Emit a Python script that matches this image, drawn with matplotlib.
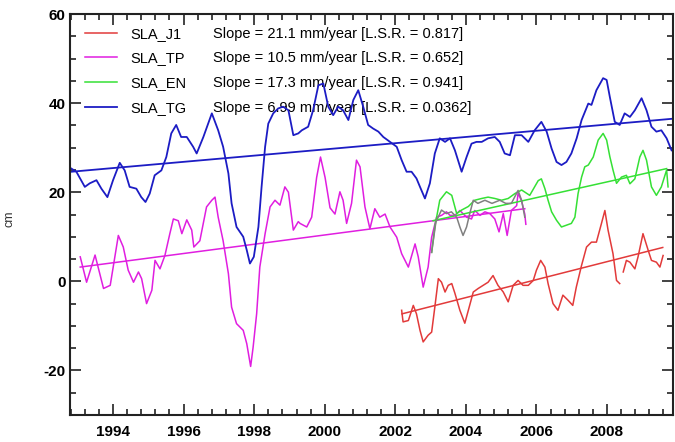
import numpy as np
import matplotlib.pyplot as plt
from matplotlib.lines import Line2D
from matplotlib.ticker import MultipleLocator

plt.rcParams['font.family'] = ['Liberation Sans', 'DejaVu Sans']

# SLA_TG (tide gauge)
tg_years = [1992.82, 1992.96, 1993.20, 1993.34, 1993.53, 1993.67, 1993.84, 1994.00, 1994.19, 1994.33,
            1994.47, 1994.66, 1994.80, 1994.92, 1995.04, 1995.18, 1995.37, 1995.51, 1995.65, 1995.79,
            1995.93, 1996.09, 1996.27, 1996.37, 1996.56, 1996.80, 1996.98, 1997.12, 1997.27, 1997.36,
            1997.50, 1997.69, 1997.79, 1997.88, 1997.99, 1998.12, 1998.21, 1998.31, 1998.40, 1998.54,
            1998.68, 1998.82, 1998.97, 1999.11, 1999.25, 1999.35, 1999.53, 1999.67, 1999.82, 1999.96,
            2000.10, 2000.24, 2000.38, 2000.52, 2000.67, 2000.81, 2000.95, 2001.09, 2001.23, 2001.37,
            2001.52, 2001.66, 2001.85, 2002.04, 2002.18, 2002.32, 2002.46, 2002.60, 2002.70, 2002.84,
            2002.98, 2003.12, 2003.26, 2003.41, 2003.55, 2003.69, 2003.88, 2004.02, 2004.16, 2004.30,
            2004.45, 2004.63, 2004.82, 2004.96, 2005.10, 2005.25, 2005.39, 2005.58, 2005.77, 2005.95,
            2006.14, 2006.29, 2006.43, 2006.57, 2006.71, 2006.85, 2006.99, 2007.14, 2007.28, 2007.47,
            2007.56, 2007.70, 2007.89, 2007.99, 2008.08, 2008.22, 2008.36, 2008.50, 2008.65, 2008.79,
            2008.98, 2009.12, 2009.26, 2009.40, 2009.54, 2009.69, 2009.83]
tg_cm = [25.3, 24.6, 21.2, 22.0, 22.7, 20.8, 18.9, 22.7, 26.6, 24.9,
         21.2, 20.8, 18.9, 17.8, 19.7, 23.8, 24.9, 27.9, 33.2, 35.1,
         32.4, 32.4, 30.2, 28.7, 32.4, 37.7, 33.9, 30.2, 24.2, 17.5,
         12.2, 10.0, 7.0, 4.0, 5.5, 12.2, 21.2, 30.2, 35.4, 37.7,
         38.8, 39.2, 38.4, 32.8, 33.2, 33.9, 34.7, 38.4, 44.0, 44.4,
         39.2, 37.3, 39.2, 38.4, 36.2, 40.7, 42.9, 39.2, 35.1, 34.3,
         33.6, 32.4, 31.3, 30.2, 27.2, 24.6, 24.6, 23.1, 21.2, 18.6,
         22.0, 28.7, 32.1, 31.3, 32.1, 29.4, 24.6, 27.9, 30.9, 31.3,
         31.3, 32.1, 32.4, 31.3, 28.7, 28.3, 32.8, 32.8, 31.3, 33.9,
         35.8, 33.6, 29.8, 26.8, 26.1, 26.8, 28.7, 32.1, 36.2, 39.9,
         39.6, 42.9, 45.6, 45.2, 41.4, 35.8, 35.1, 37.7, 36.9, 38.4,
         41.1, 38.4, 34.7, 33.6, 33.9, 32.1, 29.4]

# SLA_TP (Topex/Poseidon)
tp_years = [1993.07, 1993.25, 1993.49, 1993.73, 1993.92, 1994.15, 1994.29, 1994.43, 1994.58, 1994.72,
            1994.81, 1994.95, 1995.10, 1995.19, 1995.33, 1995.47, 1995.61, 1995.71, 1995.85, 1995.95,
            1996.09, 1996.23, 1996.29, 1996.46, 1996.65, 1996.80, 1996.89, 1996.98, 1997.12, 1997.27,
            1997.36, 1997.50, 1997.69, 1997.79, 1997.90, 1997.97, 1998.07, 1998.16, 1998.31, 1998.45,
            1998.59, 1998.73, 1998.87, 1998.97, 1999.11, 1999.25, 1999.30, 1999.49, 1999.63, 1999.77,
            1999.88, 2000.01, 2000.15, 2000.29, 2000.43, 2000.52, 2000.62, 2000.76, 2000.90, 2001.00,
            2001.14, 2001.28, 2001.42, 2001.56, 2001.71, 2001.85, 2002.04, 2002.18, 2002.37, 2002.56,
            2002.65, 2002.79, 2002.93, 2003.03, 2003.17, 2003.31, 2003.45, 2003.55, 2003.69, 2003.83,
            2004.02, 2004.16, 2004.25, 2004.40, 2004.54, 2004.68, 2004.82, 2004.94, 2005.06, 2005.17,
            2005.29, 2005.44, 2005.48, 2005.58, 2005.67, 2005.70]
tp_cm = [5.5, -0.2, 5.9, -1.6, -0.9, 10.3, 7.7, 2.5, -0.2, 2.1,
         0.6, -5.0, -2.0, 4.7, 2.8, 5.8, 10.7, 14.0, 13.6, 10.7,
         13.8, 11.5, 7.7, 9.1, 16.7, 18.2, 18.9, 14.4, 9.1, 1.7,
         -5.8, -9.5, -11.0, -14.0, -19.1, -14.8, -7.3, 3.2, 10.7, 16.7,
         18.2, 17.1, 21.2, 20.0, 11.5, 13.4, 13.0, 12.2, 14.4, 23.3,
         27.9, 23.3, 16.5, 15.1, 20.1, 18.2, 13.0, 17.5, 27.2, 25.7,
         16.7, 11.8, 16.3, 14.4, 15.1, 12.2, 9.9, 6.2, 3.2, 8.4,
         5.5, -1.3, 3.2, 9.9, 14.4, 14.8, 15.6, 14.8, 14.8, 15.9,
         14.4, 14.0, 15.9, 14.8, 15.6, 15.2, 14.0, 11.1, 15.2, 10.3,
         15.9, 17.0, 19.8, 18.0, 15.1, 12.8]

# SLA_EN (Envisat)
en_years = [2003.03, 2003.12, 2003.26, 2003.45, 2003.60, 2003.74, 2003.88, 2004.07, 2004.25, 2004.45,
            2004.63, 2004.82, 2005.01, 2005.20, 2005.39, 2005.58, 2005.81, 2006.05, 2006.14, 2006.24,
            2006.33, 2006.43, 2006.57, 2006.71, 2006.85, 2006.99, 2007.09, 2007.18, 2007.28, 2007.37,
            2007.47, 2007.61, 2007.75, 2007.89, 2007.99, 2008.08, 2008.17, 2008.27, 2008.41, 2008.55,
            2008.65, 2008.79, 2008.93, 2009.02, 2009.12, 2009.26, 2009.40, 2009.54, 2009.69, 2009.73]
en_cm = [6.5, 12.2, 18.2, 20.1, 19.3, 15.2, 16.0, 16.8, 18.2, 18.6,
         18.9, 18.6, 18.2, 18.6, 19.7, 20.5, 19.3, 22.6, 23.0, 20.8,
         18.2, 15.6, 13.7, 12.2, 12.6, 13.0, 14.4, 19.7, 23.4, 25.7,
         26.1, 27.9, 31.7, 33.2, 31.7, 28.0, 25.0, 22.0, 23.4, 23.8,
         21.9, 23.0, 27.9, 29.4, 27.2, 21.2, 19.3, 21.2, 25.0, 21.2]

# unlabelled grey series (2003-2005)
gr_years = [2003.03, 2003.15, 2003.31, 2003.45, 2003.59, 2003.74, 2003.83, 2003.92, 2004.02, 2004.11,
            2004.21, 2004.34, 2004.54, 2004.74, 2004.96, 2005.13, 2005.29, 2005.48, 2005.58, 2005.67]
gr_cm = [6.5, 13.3, 16.0, 15.2, 15.6, 14.4, 12.2, 10.3, 12.2, 15.2,
         18.2, 17.5, 18.2, 17.5, 18.2, 17.5, 17.5, 20.4, 18.2, 14.4]

# SLA_J1 (Jason-1), gap in mid 2008
j1_years = [2002.18, 2002.22, 2002.37, 2002.51, 2002.60, 2002.70, 2002.79, 2002.93, 2003.03, 2003.12,
            2003.22, 2003.31, 2003.41, 2003.50, 2003.60, 2003.69, 2003.83, 2003.97, 2004.07, 2004.21,
            2004.35, 2004.49, 2004.63, 2004.77, 2004.91, 2005.06, 2005.20, 2005.34, 2005.48, 2005.62,
            2005.77, 2005.91, 2006.00, 2006.12, 2006.24, 2006.33, 2006.47, 2006.61, 2006.75, 2006.89,
            2007.03, 2007.13, 2007.28, 2007.42, 2007.56, 2007.70, 2007.84, 2007.94, 2008.03, 2008.17,
            2008.27, 2008.36, 2008.41, 2008.46, 2008.55, 2008.65, 2008.79, 2008.88, 2009.02, 2009.17,
            2009.26, 2009.40, 2009.50, 2009.59]
j1_cm = [-6.5, -9.1, -8.8, -5.4, -7.3, -11.0, -13.6, -12.1, -11.4, -5.8,
         0.6, -0.2, -2.4, -0.9, -0.5, -2.7, -6.5, -9.4, -6.5, -2.4,
         -1.6, -0.9, -0.2, 1.3, -0.9, -2.4, -4.6, -0.9, 0.2, -0.9,
         -0.9, 0.2, 2.5, 4.7, 3.2, -0.5, -5.0, -6.5, -3.1, -4.2,
         -5.4, -1.3, 3.6, 7.7, 8.8, 8.8, 12.9, 15.9, 11.5, 6.2,
         0.2, -0.5, np.nan, 2.1, 4.7, 4.3, 2.8, 5.5, 10.7, 6.9,
         4.7, 4.3, 3.2, 5.8]

# linear trend end points
tg_trend_years = [1992.82, 2009.87]
tg_trend = [24.6, 36.5]
tp_trend_years = [1993.07, 2005.67]
tp_trend = [3.2, 16.3]
en_trend_years = [2003.07, 2009.69]
en_trend = [13.6, 25.3]
j1_trend_years = [2002.19, 2009.58]
j1_trend = [-7.3, 7.6]

names = ['SLA_J1', 'SLA_TP', 'SLA_EN', 'SLA_TG']
slopes = ['21.1', '10.5', '17.3', '6.99']
lsr = ['0.817', '0.652', '0.941', '0.0362']

x_ticks = [1994, 1996, 1998, 2000, 2002, 2004, 2006, 2008]
y_ticks = [-20, 0, 20, 40, 60]

c_j1 = '#e23a3a'
c_tp = '#e01ee0'
c_en = '#35e035'
c_tg = '#1c1cc4'
c_gr = '#808080'

fig = plt.figure(figsize=(6.75, 4.42), dpi=100)
ax = fig.add_axes([0.1037, 0.0611, 0.8933, 0.9072])

l_tp, = ax.plot(tp_years, tp_cm, color=c_tp, lw=1.1)
ax.plot(tp_trend_years, tp_trend, color=c_tp, lw=1.1)
l_j1, = ax.plot(j1_years, j1_cm, color=c_j1, lw=1.1)
ax.plot(j1_trend_years, j1_trend, color=c_j1, lw=1.1)
l_en, = ax.plot(en_years, en_cm, color=c_en, lw=1.1)
ax.plot(en_trend_years, en_trend, color=c_en, lw=1.1)
ax.plot(gr_years, gr_cm, color=c_gr, lw=1.1)
l_tg, = ax.plot(tg_years, tg_cm, color=c_tg, lw=1.3)
ax.plot(tg_trend_years, tg_trend, color=c_tg, lw=1.3)

ax.set_xlim(1992.78, 2009.87)
ax.set_ylim(-30, 60)

ax.set_xticks(x_ticks)
ax.set_xticklabels([str(t) for t in x_ticks], fontweight='bold', fontsize=11)
ax.set_yticks(y_ticks)
ax.set_yticklabels([str(t) for t in y_ticks], fontweight='bold', fontsize=11)
ax.xaxis.set_minor_locator(MultipleLocator(0.4))
ax.yaxis.set_minor_locator(MultipleLocator(5))
ax.tick_params(which='both', direction='in', top=True, right=True, width=1.2, color='#222222')
ax.tick_params(which='major', length=8)
ax.tick_params(which='minor', length=4)
ax.tick_params(axis='x', pad=7)
ax.tick_params(axis='y', pad=3)
for s in ax.spines.values():
    s.set_linewidth(1.5)
    s.set_color('#222222')

ax.set_ylabel('cm', fontsize=9, color='#333333')
ax.yaxis.set_label_coords(-0.09, 0.49)

leg1 = ax.legend([l_j1, l_tp, l_en, l_tg], names, loc='upper left', bbox_to_anchor=(0.025, 0.968),
                 frameon=False, borderpad=0, borderaxespad=0, handlelength=2.2, handletextpad=0.9,
                 labelspacing=0.73, fontsize=10.5)
leg1.set_zorder(1)
ax.add_artist(leg1)
blank = [Line2D([], [], linestyle='none') for _ in names]
slope_labels = ['Slope = %s mm/year [L.S.R. = %s]' % (s, r) for s, r in zip(slopes, lsr)]
leg2 = ax.legend(blank, slope_labels, loc='upper left', bbox_to_anchor=(0.237, 0.968),
                 frameon=False, borderpad=0, borderaxespad=0, handlelength=0, handletextpad=0,
                 labelspacing=0.73, fontsize=10.5)
leg2.set_zorder(1)

fig.savefig('out.png', dpi=100)
